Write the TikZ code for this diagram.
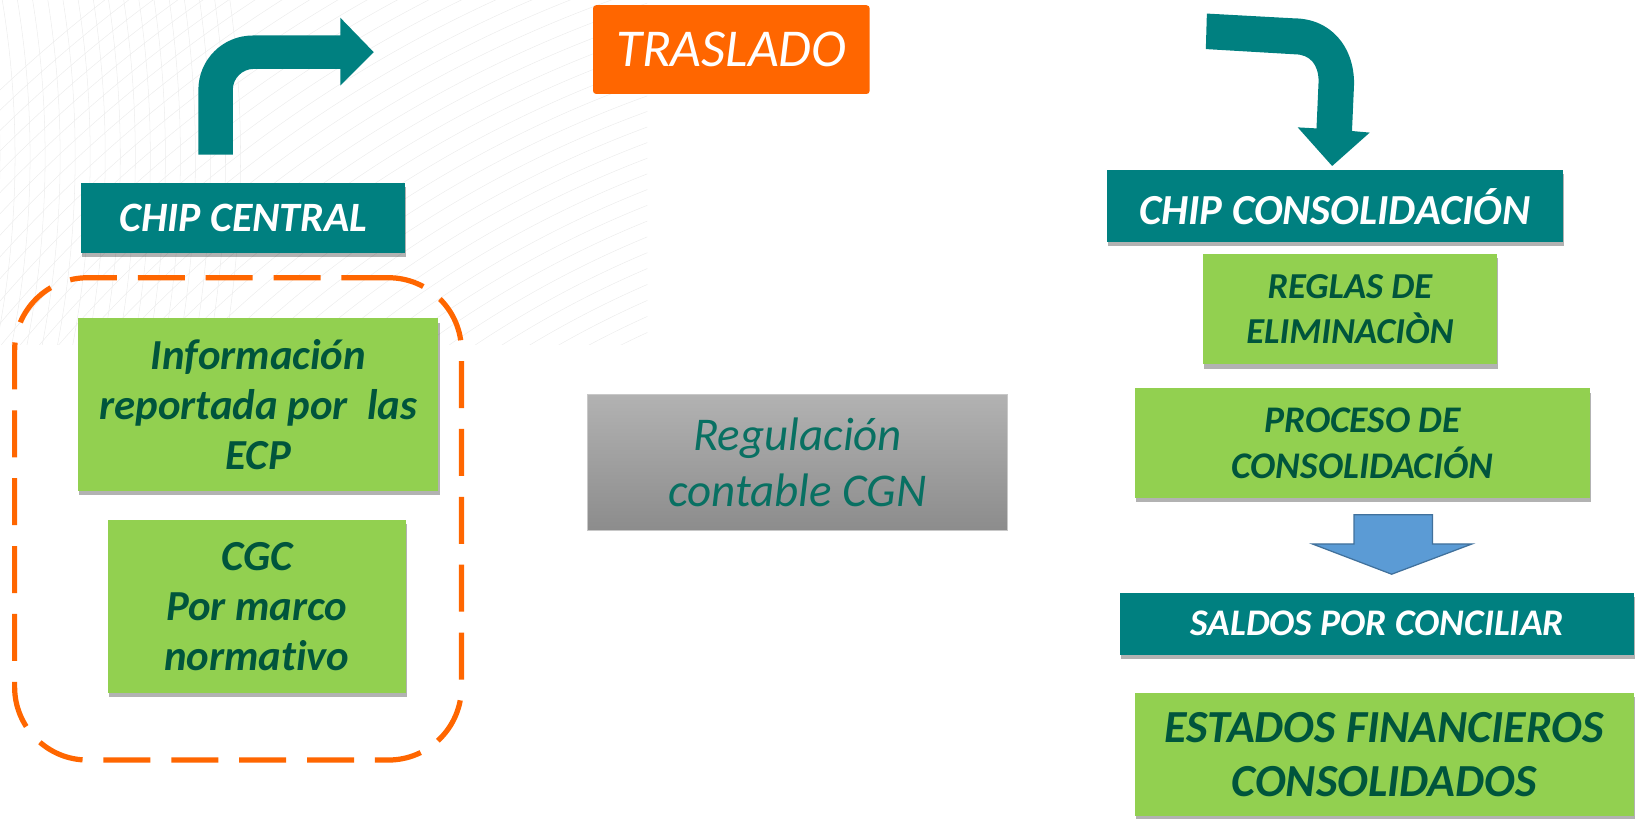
\documentclass[tikz,border=0pt]{standalone}
\usepackage{fontspec}
\setmainfont{Carlito}[Ligatures={NoCommon}]
\usetikzlibrary{shadows}
\definecolor{tealc}{RGB}{0,128,128}
\definecolor{orangec}{RGB}{255,102,0}
\definecolor{greenc}{RGB}{146,208,80}
\definecolor{darkg}{RGB}{0,85,60}
\definecolor{bluec}{RGB}{91,155,213}
\definecolor{blueb}{RGB}{65,113,156}
\definecolor{regt}{RGB}{8,112,98}
\tikzset{
  shad/.style={drop shadow={shadow xshift=1pt,shadow yshift=-4pt,opacity=.3,fill=black}},
  tealbox/.style={fill=tealc,text=white,inner sep=0pt,align=center,shad,
    font=\fontsize{40}{48}\selectfont\bfseries\itshape},
  greenbox/.style={fill=greenc,text=darkg,inner sep=0pt,align=center,shad,
    font=\fontsize{41}{48}\selectfont\bfseries\itshape},
  greensm/.style={greenbox,font=\fontsize{35}{42.5}\selectfont\bfseries\itshape},
  arrowshape/.style={fill=tealc},
  bgline/.style={draw=black!7,line width=0.5pt},
}
\begin{document}
\begin{tikzpicture}[x=1pt,y=-1pt]
\useasboundingbox (0,0) rectangle (1568,784);
% faint background lines
\begin{scope}
\clip (0,0) rectangle (620,330);
\foreach \r in {0,14,...,560}{
  \draw[bgline] (1000,1150) circle[radius=900+\r];
}
\foreach \r in {0,12,...,200}{
  \draw[bgline] (-900+\r*0.2,150) circle[radius=900+\r];
}
\end{scope}
% TRASLADO
\node[fill=orangec,text=white,rounded corners=3pt,minimum width=265pt,minimum height=85pt,inner sep=0pt,
  font=\fontsize{51}{56}\selectfont\itshape] (tras) at (700.5,47.5) {TRASLADO};
% left arrow
\fill[arrowshape] (190,148) -- (190,86) .. controls (190,57.3) and (213.3,34) .. (242,34)
  -- (326,34) -- (326,17) -- (358,50) -- (326,82) -- (326,66) -- (243,66)
  .. controls (232,66) and (223,75) .. (223,86) -- (223,148) -- cycle;
% right arrow
\fill[arrowshape] (1156,13) -- (1240,17.6) .. controls (1275,18) and (1297,45) .. (1297,80)
  -- (1295,125.5) -- (1312,127) -- (1276,159) -- (1243,122) -- (1261,123) -- (1263,78)
  .. controls (1263,62) and (1255,52) .. (1240,52) -- (1155,47) -- cycle;
% left column
\node[tealbox,minimum width=310pt,minimum height=67pt] (central) at (233,208.5) {CHIP CENTRAL};
\node[draw=orangec,line width=5pt,dash pattern=on 45pt off 20pt,rounded corners=70pt,
  minimum width=428pt,minimum height=462pt,inner sep=0pt] (frame) at (228,497) {};
\node[greenbox,minimum width=345pt,minimum height=165pt] (info) at (247.5,387.5)
  {Información\\reportada por\ \ las\\ECP};
\node[greenbox,minimum width=286pt,minimum height=166pt] (cgc) at (246,581)
  {CGC\\Por marco\\normativo};
% middle
\node[top color={rgb,255:red,178;green,178;blue,178},bottom color={rgb,255:red,140;green,140;blue,140},
  draw={rgb,255:red,200;green,200;blue,200},line width=1pt,minimum width=402pt,minimum height=130pt,
  inner sep=0pt,align=center,text=regt,font=\fontsize{45}{54}\selectfont\itshape] (reg) at (764,443)
  {Regulación\\contable CGN};
% right column
\node[tealbox,minimum width=437pt,minimum height=69pt,font=\fontsize{41}{48}\selectfont\bfseries\itshape]
  (consol) at (1278.5,197.5) {CHIP CONSOLIDACIÓN};
\node[greensm,minimum width=282pt,minimum height=106pt] (reglas) at (1293,296) {REGLAS DE\\ELIMINACIÒN};
\node[greensm,minimum width=436pt,minimum height=105pt,font=\fontsize{36}{44}\selectfont\bfseries\itshape]
  (proceso) at (1305,424.5) {PROCESO DE\\CONSOLIDACIÓN};
\fill[bluec,draw=blueb,line width=1.2pt] (1297,493) -- (1372,493) -- (1372,521) -- (1410,521)
  -- (1333,550) -- (1257,521) -- (1297,521) -- cycle;
\node[tealbox,minimum width=492pt,minimum height=59pt,font=\fontsize{36}{42}\selectfont\bfseries\itshape]
  (saldos) at (1319,597.5) {SALDOS POR CONCILIAR};
\node[greenbox,minimum width=478pt,minimum height=118pt,font=\fontsize{44}{52}\selectfont\bfseries\itshape]
  (estados) at (1326,723) {ESTADOS FINANCIEROS\\CONSOLIDADOS};
\end{tikzpicture}
\end{document}
